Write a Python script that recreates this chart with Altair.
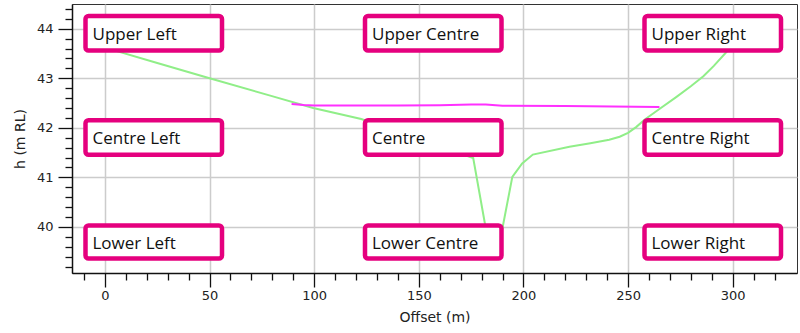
import altair as alt
import pandas as pd

# ---- data ----
ground_offset = [0, 25, 50, 79, 99.5, 122.5, 176, 181.5, 184.5, 187, 190.5, 194.7, 199.4,
                 204.5, 222, 232, 241, 246, 250, 254, 258, 265, 273, 280, 286, 291, 296.8, 305, 315]
ground_h = [43.62, 43.31, 43.0, 42.65, 42.40, 42.18, 41.39, 40.09, 39.35, 39.35, 40.09, 41.01,
            41.28, 41.46, 41.62, 41.69, 41.76, 41.82, 41.9, 42.02, 42.17, 42.38, 42.62, 42.84,
            43.04, 43.25, 43.52, 43.88, 44.25]

water_offset = [89.2, 95, 100, 140, 160, 175, 182, 190, 220, 265]
water_h = [42.48, 42.46, 42.45, 42.45, 42.455, 42.47, 42.47, 42.445, 42.44, 42.42]

x_major = [0, 50, 100, 150, 200, 250, 300]
x_minor = [v for v in range(-10, 330, 10) if v % 50 != 0]
y_major = [40, 41, 42, 43, 44]
y_minor = [round(39.2 + 0.2 * i, 1) for i in range(27) if abs((39.2 + 0.2 * i) - round(39.2 + 0.2 * i)) > 1e-6]

row_names = ["Upper", "Centre", "Lower"]
col_names = ["Left", "Centre", "Right"]

# ---- layout ----
W, H = 725, 269
X_DOMAIN = [-15.75, 330.75]
Y_DOMAIN = [39.07, 44.5]
PINK = "#e5007e"
AX_FONT = "DejaVu Sans"
TXT = "#222222"

xs = alt.Scale(domain=X_DOMAIN, nice=False, zero=False)
ys = alt.Scale(domain=Y_DOMAIN, nice=False, zero=False)

ground = pd.DataFrame({"offset": ground_offset, "h": ground_h})
water = pd.DataFrame({"offset": water_offset, "h": water_h})

x_axis = alt.Axis(values=x_major, tickSize=14, tickWidth=1.3, tickColor="#111", domainColor="#111",
                  domainWidth=1.5, labelFont=AX_FONT, labelFontSize=13, labelColor=TXT,
                  labelPadding=2, grid=True, gridColor="#cccccc", gridWidth=1.5,
                  title="Offset (m)", titleFont=AX_FONT, titleFontSize=14, titleFontWeight="normal",
                  titleColor=TXT, titlePadding=8, orient="bottom")
y_axis = alt.Axis(values=y_major, tickSize=14, tickWidth=1.3, tickColor="#111", domainColor="#111",
                  domainWidth=1.5, labelFont=AX_FONT, labelFontSize=13, labelColor=TXT,
                  labelPadding=5, grid=True, gridColor="#cccccc", gridWidth=1.5,
                  title="h (m RL)", titleFont=AX_FONT, titleFontSize=14, titleFontWeight="normal",
                  titleColor=TXT, titlePadding=9, orient="left")
x_minor_axis = alt.Axis(values=x_minor, tickSize=7, tickWidth=1.3, tickColor="#111", labels=False,
                        domain=False, grid=False, title=None, orient="bottom")
y_minor_axis = alt.Axis(values=y_minor, tickSize=7, tickWidth=1.3, tickColor="#111", labels=False,
                        domain=False, grid=False, title=None, orient="left")

ground_line = alt.Chart(ground).mark_line(color="#90ee88", strokeWidth=2).encode(
    x=alt.X("offset:Q", scale=xs, axis=x_axis),
    y=alt.Y("h:Q", scale=ys, axis=y_axis),
)
water_line = alt.Chart(water).mark_line(color="#ff30ff", strokeWidth=2).encode(
    x=alt.X("offset:Q", scale=xs, axis=x_minor_axis),
    y=alt.Y("h:Q", scale=ys, axis=y_minor_axis),
)

layers = [ground_line, water_line]

box_w, box_h = 136.5, 34.5
col_x = [13.5, 293.0, 572.5]
row_y = [12.0, 116.2, 221.5]
for r, rn in enumerate(row_names):
    for c, cn in enumerate(col_names):
        label = "Centre" if (rn == "Centre" and cn == "Centre") else f"{rn} {cn}"
        d = pd.DataFrame({"label": [label]})
        bh = box_h if r < 2 else 33.0
        x1, y1 = col_x[c], row_y[r]
        rect = alt.Chart(d).mark_rect(fill="white", stroke=PINK, strokeWidth=4.5, cornerRadius=3).encode(
            x=alt.value(x1), x2=alt.value(x1 + box_w), y=alt.value(y1), y2=alt.value(y1 + bh)
        )
        txt = alt.Chart(d).mark_text(align="left", baseline="alphabetic", font="Open Sans",
                                     fontSize=17, color="#111111").encode(
            x=alt.value(x1 + 7), y=alt.value(y1 + 23.5), text="label:N"
        )
        layers += [rect, txt]

chart = alt.layer(*layers).resolve_axis(x="independent", y="independent").properties(
    width=W, height=H,
    autosize=alt.AutoSizeParams(type="none"),
    padding={"left": 72, "top": 4, "right": 3, "bottom": 60},
).configure_view(stroke="#333333", strokeWidth=1)

chart.save("out.html", embed_options={"renderer": "svg", "actions": False})
